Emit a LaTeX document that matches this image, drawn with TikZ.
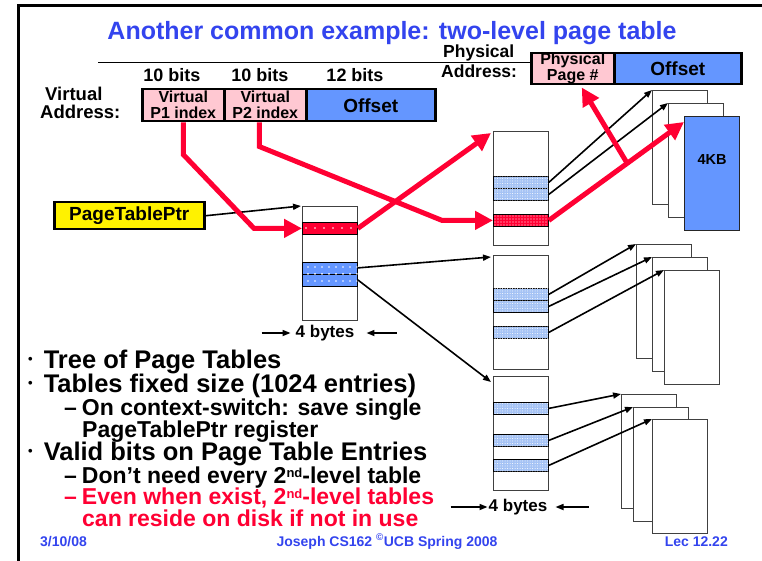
\documentclass[tikz,border=0pt]{standalone}
\usepackage{fontspec}
\setmainfont{Liberation Sans}
\usetikzlibrary{arrows.meta,patterns,patterns.meta}

\definecolor{rojo}{RGB}{255,0,51}
\definecolor{rosa}{RGB}{255,200,210}
\definecolor{azul}{RGB}{100,150,255}
\definecolor{azulclaro}{RGB}{165,195,245}
\definecolor{titulo}{RGB}{51,68,238}

% vineta y superindice pequenos
\newcommand{\vineta}{\raisebox{5pt}{\fontsize{13}{13}\selectfont•}\hspace{11pt}}
\newcommand{\ordnd}{\raisebox{6pt}{\fontsize{13}{13}\selectfont nd}}

\begin{document}
\begin{tikzpicture}[x=1pt, y=-1pt, inner sep=0pt,
  caja/.style={draw, line width=2.5pt, anchor=north west, minimum height=32pt,
    font=\bfseries\fontsize{16}{16}\selectfont, align=center},
  tabla/.style={draw=black!75, line width=1.2pt, fill=white, anchor=north west,
    minimum width=55pt, minimum height=114pt},
  pagina/.style={tabla},
  entrada/.style={draw, line width=0.8pt, anchor=north west, minimum width=55pt, minimum height=12pt},
  entrada azul/.style={entrada, fill=azul,
    postaction={pattern={Dots[distance=7pt,radius=0.9pt]}, pattern color=white}},
  entrada roja/.style={entrada, fill=rojo,
    postaction={pattern={Dots[distance=9pt,radius=0.9pt]}, pattern color=white}},
  entrada clara/.style={entrada, fill=azulclaro,
    postaction={pattern={Dots[distance=2.5pt,radius=0.5pt]}, pattern color=white}},
  entrada densa/.style={entrada, fill=rojo,
    postaction={pattern={Dots[distance=3pt,radius=0.6pt]}, pattern color=white}},
  flecha/.style={-{Triangle[length=8pt,width=6pt]}, line width=1.6pt},
  flecha roja/.style={draw=rojo, line width=5pt, -{Triangle[length=18pt,width=18pt]}},
  punto/.style={anchor=base west, font=\bfseries\fontsize{25.5}{25.5}\selectfont},
  subpunto/.style={anchor=base west, font=\bfseries\fontsize{23}{23}\selectfont},
  etiqueta/.style={anchor=base west, font=\bfseries\fontsize{18.5}{18.5}\selectfont},
  bits/.style={anchor=base, font=\bfseries\fontsize{18}{18}\selectfont},
  pie/.style={text=titulo, font=\bfseries\fontsize{14}{14}\selectfont}]

\useasboundingbox (0,0) rectangle (762,561);

% Marco y titulo
\draw[line width=3pt] (18.5,561) -- (18.5,5.5) -- (762,5.5);
\node[anchor=base, text=titulo, font=\bfseries\fontsize{25}{25}\selectfont] (titulo) at (392,40)
  {Another common example: two-level page table};
\draw[line width=0.7pt, double, double distance=2pt] (98,61.5) -- (530,61.5);

% Direccion fisica
\node[etiqueta, font=\bfseries\fontsize{17.5}{17.5}\selectfont] (fis1) at (443,58) {Physical};
\node[etiqueta, font=\bfseries\fontsize{17.5}{17.5}\selectfont] (fis2) at (441,78) {Address:};
\node[caja, fill=rosa, minimum width=83pt, minimum height=31pt] (ppn) at (530,52) {Physical\\Page \#};
\node[caja, fill=azul, minimum width=127pt, minimum height=31pt,
  font=\bfseries\fontsize{19}{19}\selectfont] (poff) at (613,52) {Offset};

% Direccion virtual
\node[bits] (bits1) at (172,82) {10 bits};
\node[bits] (bits2) at (260,82) {10 bits};
\node[bits] (bits3) at (355,82) {12 bits};
\node[etiqueta] (vir1) at (45,101) {Virtual};
\node[etiqueta] (vir2) at (40,119) {Address:};
\node[caja, fill=rosa, minimum width=82pt] (p1) at (141,88) {Virtual\\P1 index};
\node[caja, fill=rosa, minimum width=82pt] (p2) at (223,88) {Virtual\\P2 index};
\node[caja, fill=azul, minimum width=129pt,
  font=\bfseries\fontsize{19}{19}\selectfont] (voff) at (305,88) {Offset};

% Registro PageTablePtr
\node[draw, line width=2.5pt, fill=yellow, anchor=north west, minimum width=150pt, minimum height=27pt,
  font=\bfseries\fontsize{19}{19}\selectfont] (ptr) at (53,201) {PageTablePtr};

% Tabla de primer nivel
\node[tabla] (t0) at (302,206) {};
\node[entrada roja] (t0r) at (302,222) {};
\node[entrada azul] (t0a) at (302,261.5) {};
\node[entrada azul] (t0b) at (302,273.5) {};
\node[font=\bfseries\fontsize{17}{17}\selectfont] (ancho0) at (325,333) {4 bytes};

% Tablas de segundo nivel
\node[tabla] (t1) at (493,131) {};
\node[entrada clara] (t1a) at (493,176) {};
\node[entrada clara] (t1b) at (493,188) {};
\node[entrada densa] (t1r) at (493,214) {};

\node[tabla] (t2) at (493,255) {};
\node[entrada clara] (t2a) at (493,288) {};
\node[entrada clara] (t2b) at (493,300) {};
\node[entrada clara] (t2c) at (493,326) {};

\node[tabla] (t3) at (493,376) {};
\node[entrada clara] (t3a) at (493,402) {};
\node[entrada clara] (t3b) at (493,434) {};
\node[entrada clara] (t3c) at (493,459) {};
\node[font=\bfseries\fontsize{17}{17}\selectfont] (ancho1) at (518,507) {4 bytes};

% Paginas de 4KB
\node[pagina] (g1a) at (652,90) {};
\node[pagina] (g1b) at (668,103) {};
\node[pagina, fill=azul, draw=black!85] (g1c) at (684,116) {};
\node[font=\bfseries\fontsize{14.5}{14.5}\selectfont] (kb) at (712,160) {4KB};

\node[pagina] (g2a) at (636,244) {};
\node[pagina] (g2b) at (652,257) {};
\node[pagina] (g2c) at (664,270) {};

\node[pagina] (g3a) at (621,394) {};
\node[pagina] (g3b) at (633,407) {};
\node[pagina] (g3c) at (652,419) {};

% Flechas negras
\draw[flecha] (ptr.east) -- ([xshift=-1pt]t0.north west);
\draw[flecha] (t0a.east) -- ([xshift=-2pt,yshift=-2pt]t2.north west);
\draw[flecha] (t0b.east) -- ([xshift=-2pt,yshift=-6pt]t3.north west);
\draw[flecha] (t1a.east) -- (g1a.north west);
\draw[flecha] (t1b.east) -- (g1b.north west);
\draw[flecha] (t2a.east) -- (g2a.north west);
\draw[flecha] (t2b.east) -- (g2b.north west);
\draw[flecha] (t2c.east) -- (g2c.north west);
\draw[flecha] (t3a.east) -- (g3a.north west);
\draw[flecha] (t3b.east) -- (g3b.north west);
\draw[flecha] (t3c.east) -- (g3c.north west);

% Anchura de las tablas
\draw[flecha] ([xshift=-34pt]ancho0.west) -- ([xshift=-5pt]ancho0.west);
\draw[flecha] ([xshift=42pt]ancho0.east) -- ([xshift=12pt]ancho0.east);
\draw[flecha] ([xshift=-38pt]ancho1.west) -- ([xshift=-1pt]ancho1.west);
\draw[flecha] ([xshift=41pt]ancho1.east) -- ([xshift=8pt]ancho1.east);

% Flechas rojas de la traduccion
\draw[flecha roja] (p1.south) -- ++(0,32) -- ([xshift=-48pt]t0r.west) -- (t0r.west);
\draw[flecha roja] ([xshift=-6pt]p2.south) -- ++(0,24) -- ([xshift=-51pt]t1r.west) -- (t1r.west);
\draw[flecha roja] (t0r.east) -- ([xshift=-2pt,yshift=-2pt]t1.north west);
\draw[flecha roja] (t1r.east) -- coordinate[pos=0.58] (cruce) ([yshift=-6pt]g1c.north west);
\draw[flecha roja] (cruce) -- ([xshift=9pt,yshift=-2pt]ppn.south);

% Texto
\node[punto] (l1) at (28,368) {\vineta Tree of Page Tables};
\node[punto] (l2) at (28,392) {\vineta Tables fixed size (1024 entries)};
\node[subpunto] (l3) at (64,415) {–\hspace{5pt}On context-switch: save single};
\node[subpunto] (l4) at (82,437) {PageTablePtr register};
\node[punto] (l5) at (28,460) {\vineta Valid bits on Page Table Entries};
\node[subpunto] (l6) at (64,483) {–\hspace{5pt}Don't need every 2\ordnd-level table};
\node[subpunto, text=rojo] (l7) at (64,504) {–\hspace{5pt}Even when exist, 2\ordnd-level tables};
\node[subpunto, text=rojo] (l8) at (82,526) {can reside on disk if not in use};

% Pie
\node[pie, anchor=base west] (fecha) at (40,546) {3/10/08};
\node[pie, anchor=base] (autor) at (387,546) {Joseph CS162 \textsuperscript{©}UCB Spring 2008};
\node[pie, anchor=base east] (lec) at (728,546) {Lec 12.22};

\end{tikzpicture}
\end{document}
